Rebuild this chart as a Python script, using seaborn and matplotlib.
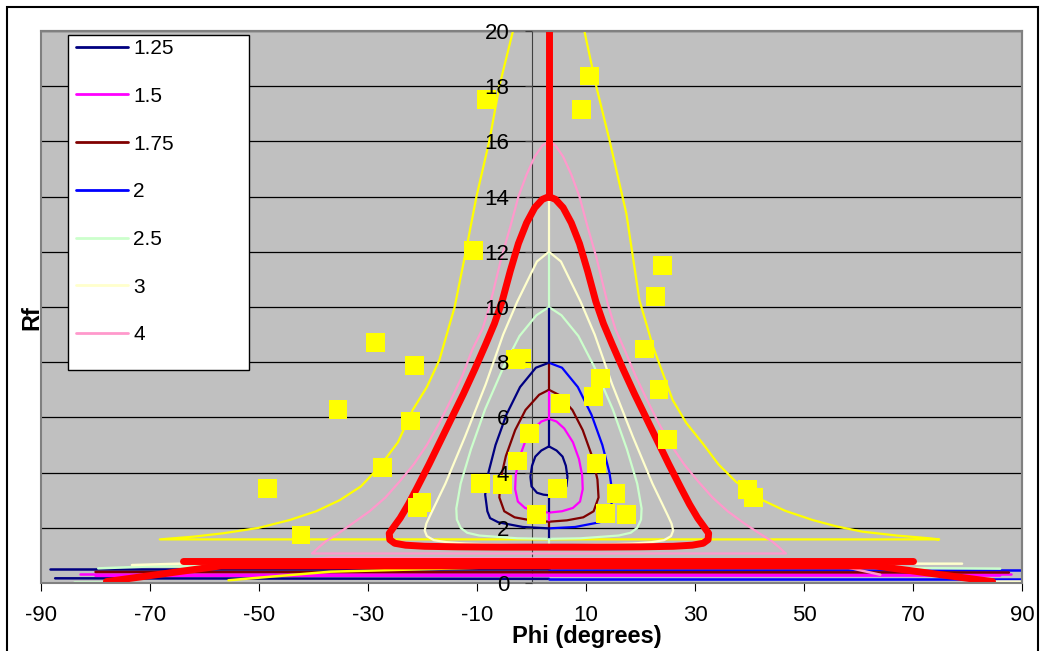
import seaborn as sns
import matplotlib.pyplot as plt
from matplotlib.lines import Line2D
from matplotlib.patches import Rectangle

sns.set_style('white')
plt.rcParams['font.family'] = ['Liberation Sans', 'DejaVu Sans']
plt.rcParams['axes.unicode_minus'] = False

# ---------------- data ----------------
# Rf/Phi curves, traced as (phi, Rf) points going round each loop
phi_125 = [3.2, 4.6, 5.7, 6.3, 6.6, 6.4, 5.4, 4.2, 3.2, 2.2, 1.0, 0.0, -0.2, 0.1, 0.7, 1.8, 3.2]
rf_125 = [4.95, 4.8, 4.58, 4.25, 3.85, 3.5, 3.27, 3.2, 3.18, 3.2, 3.27, 3.5, 3.85, 4.25, 4.58, 4.8, 4.95]

phi_150 = [3.2, 4.6, 6.0, 7.6, 8.7, 9.3, 9.4, 8.9, 7.6, 5.6, 3.2, 0.8, -1.2, -2.5, -3.0, -2.9, -2.3, -1.2, 0.4, 1.8, 3.2]
rf_150 = [5.95, 5.85, 5.6, 5.1, 4.5, 3.9, 3.4, 2.95, 2.72, 2.6, 2.55, 2.6, 2.72, 2.95, 3.4, 3.9, 4.5, 5.1, 5.6, 5.85, 5.95]

phi_175 = [3.2, 5.0, 7.5, 9.4, 11.1, 12.1, 12.3, 11.4, 9.5, 6.5, 3.2, -0.1, -3.1, -5.0, -5.9, -5.7, -4.7, -3.0, -1.1, 1.4, 3.2]
rf_175 = [7.0, 6.82, 6.27, 5.54, 4.6, 3.75, 3.1, 2.6, 2.38, 2.27, 2.22, 2.27, 2.38, 2.6, 3.1, 3.75, 4.6, 5.54, 6.27, 6.82, 7.0]

# the "2" loop is drawn in two halves (right half blue, left half navy)
phi_200r = [3.2, 5.6, 8.5, 11.0, 13.0, 14.3, 14.9, 14.5, 14.0, 12.5, 8.0, 3.2]
rf_200r = [7.98, 7.8, 7.1, 6.1, 5.0, 4.0, 3.2, 2.6, 2.35, 2.2, 2.03, 1.98]
phi_200l = [3.2, -1.6, -6.1, -7.6, -8.1, -8.5, -7.9, -6.6, -4.6, -2.1, 0.8, 3.2]
rf_200l = [1.98, 2.03, 2.2, 2.35, 2.6, 3.2, 4.0, 5.0, 6.1, 7.1, 7.8, 7.98]

phi_250 = [3.2, 5.5, 8.6, 11.5, 14.9, 17.5, 19.4, 20.2, 20.1, 19.4, 18.2, 16.0, 9.0, 3.2,
           -2.6, -9.6, -11.8, -13.0, -13.7, -13.8, -13.0, -11.1, -8.5, -5.1, -2.2, 0.9, 3.2]
rf_250 = [10.0, 9.7, 8.95, 7.84, 6.3, 4.85, 3.6, 2.7, 2.3, 2.0, 1.82, 1.72, 1.62, 1.6,
          1.62, 1.72, 1.82, 2.0, 2.3, 2.7, 3.6, 4.85, 6.3, 7.84, 8.95, 9.7, 10.0]

phi_300 = [3.2, 5.4, 9.0, 11.6, 14.8, 18.6, 22.2, 25.0, 25.7, 26.0, 25.6, 24.3, 22.0, 18.5, 14.0, 9.5, 3.2,
           -3.1, -7.6, -12.1, -15.6, -17.9, -19.2, -19.6, -19.3, -18.6, -15.8, -12.2, -8.4, -5.2, -2.6, 1.0, 3.2]
rf_300 = [12.0, 11.65, 10.2, 9.0, 7.2, 5.3, 3.6, 2.45, 2.15, 1.9, 1.7, 1.55, 1.48, 1.43, 1.4, 1.38, 1.36,
          1.38, 1.4, 1.43, 1.48, 1.55, 1.7, 1.9, 2.15, 2.45, 3.6, 5.3, 7.2, 9.0, 10.2, 11.65, 12.0]

phi_400 = [3.2, 4.4, 5.8, 7.3, 8.8, 10.3, 11.9, 14.0, 15.4, 17.1, 19.1, 21.2, 23.3, 25.6, 28.0, 30.5, 33.2,
           36.0, 39.1, 42.2, 44.2, 45.4, 46.2, 46.7,
           -40.3, -39.8, -39.0, -37.8, -35.8, -32.9, -29.7, -26.8, -24.1, -21.6, -19.2, -16.9,
           -14.8, -12.7, -10.9, -9.0, -7.6, -5.5, -3.9, -2.4, -0.9, 0.6, 2.0, 3.2]
rf_400 = [16.0, 15.85, 15.45, 14.8, 14.0, 12.9, 11.8, 10.1, 9.2, 8.44, 7.5, 6.63, 5.8, 5.0, 4.3, 3.7, 3.1,
          2.6, 2.15, 1.75, 1.5, 1.3, 1.15, 1.07,
          1.07, 1.15, 1.3, 1.5, 1.75, 2.15, 2.6, 3.1, 3.7, 4.3, 5.0, 5.8,
          6.63, 7.5, 8.44, 9.2, 10.1, 11.8, 12.9, 14.0, 14.8, 15.45, 15.85, 16.0]

# thick red curve
phi_red = [3.2, 4.4, 5.8, 7.3, 8.8, 10.3, 11.8, 13.2, 14.8, 16.8, 18.9, 21.0, 23.1, 25.2, 27.4, 29.0,
           30.5, 31.6, 32.5, 32.4, 31.5, 29.5, 26.0, 20.0, 12.0, 3.2,
           -5.6, -13.6, -19.6, -23.1, -25.1, -26.0, -26.1, -25.2, -24.1, -22.6, -21.0, -18.8, -16.7,
           -14.6, -12.5, -10.4, -8.4, -6.8, -5.4, -3.9, -2.4, -0.9, 0.6, 2.0, 3.2]
rf_red = [14.0, 13.9, 13.6, 13.05, 12.3, 11.3, 10.2, 9.4, 8.65, 7.75, 6.85, 6.0, 5.15, 4.3, 3.45, 2.85,
          2.35, 2.05, 1.8, 1.57, 1.44, 1.37, 1.33, 1.31, 1.3, 1.3,
          1.3, 1.31, 1.33, 1.37, 1.44, 1.57, 1.8, 2.05, 2.35, 2.85, 3.45, 4.3, 5.15,
          6.0, 6.85, 7.75, 8.65, 9.4, 10.2, 11.3, 12.3, 13.05, 13.6, 13.9, 14.0]

# open yellow curve
phi_yel = [-2.9, -3.4, -5.9, -7.7, -10.1, -12.0, -14.1, -16.9, -19.2, -21.8, -24.5, -27.9, -31.3, -35.2,
           -39.5, -44.4, -50.0, -56.6, -62.0, -68.2,
           74.8, 73.0, 67.0, 60.7, 56.0, 51.6, 46.5, 42.4, 37.5, 34.3, 31.4, 28.4, 25.9, 22.3, 19.8,
           17.4, 14.3, 11.9, 9.7, 9.4]
rf_yel = [21.0, 20.0, 18.0, 16.05, 14.0, 12.06, 10.0, 8.08, 7.1, 6.27, 5.1, 4.21, 3.5, 3.0,
          2.6, 2.28, 2.0, 1.8, 1.68, 1.58,
          1.58, 1.62, 1.72, 1.86, 2.05, 2.28, 2.62, 3.0, 3.67, 4.3, 5.06, 5.8, 6.63, 8.56, 10.25,
          13.39, 16.05, 17.98, 20.0, 21.0]

# vertical pieces on the centre line (phi = 3.2)
centre_phi = 3.2
seg_lo = [4.95, 5.95, 7.0, 7.98, 10.0, 12.0, 2.55, 2.22, 1.98, 1.6, 1.36, 14.0]
seg_hi = [5.95, 7.0, 7.98, 10.0, 12.0, 14.0, 3.18, 2.55, 2.22, 1.98, 1.6, 21.0]
seg_key = ['1.25', '1.5', '1.75', 'navy', '2.5', '3', '1.25', '1.5', '1.75', 'navy', '2.5', 'red']

# low branches (Rf < 1) along the bottom of the chart
low_lines = [
    ('navy', [-88.3, 3.2], [0.5, 0.5]),
    ('navy', [-87.4, 3.2], [0.17, 0.15]),
    ('2', [3.2, 91.0], [0.46, 0.46]),
    ('2', [3.2, 91.0], [0.15, 0.15]),
    ('1.5', [-82.8, 88.0], [0.33, 0.33]),
    ('1.5', [-80.0, 86.0], [0.26, 0.27]),
    ('1.75', [-80.0, 87.6], [0.4, 0.38]),
    ('2.5', [-79.5, -70.0, 3.2, 86.0], [0.53, 0.6, 0.62, 0.52]),
    ('2.5', [-84.0, -75.0], [0.05, 0.05]),
    ('3', [-73.3, -64.5, 79.0], [0.65, 0.7, 0.7]),
    ('3', [85.0, 90.0], [0.07, 0.07]),
    ('4', [-58.5, -37.0, 45.0, 54.6, 64.0], [0.59, 0.92, 0.85, 0.71, 0.3]),
    ('yellow', [-55.6, -36.9, 3.3, 60.0], [0.1, 0.41, 0.62, 0.62]),
]
red_low_phi = [-64.0, 70.0]
red_low_rf = [0.8, 0.8]
red_low2_phi = [-78.0, -57.0, 63.0, 84.6]
red_low2_rf = [0.05, 0.62, 0.62, 0.05]

# measured data points (yellow squares)
sq_phi = [-48.5, -42.3, -35.5, -28.6, -27.4, -21.4, -22.2, -20.1, -20.9, -10.7, -8.3, -9.4,
          -5.3, -2.6, -3.0, -1.8, -0.3, 0.9, 4.7, 5.4, 9.2, 10.6, 11.9, 11.3, 12.6, 15.5,
          13.6, 17.5, 20.7, 22.7, 24.1, 23.4, 24.9, 39.7, 40.7]
sq_rf = [3.41, 1.74, 6.3, 8.72, 4.18, 7.87, 5.87, 2.92, 2.74, 12.06, 17.52, 3.62,
         3.58, 4.42, 8.1, 8.15, 5.42, 2.47, 3.43, 6.51, 17.17, 18.37, 4.34, 6.75, 7.42, 3.25,
         2.53, 2.49, 8.48, 10.37, 11.49, 7.02, 5.21, 3.39, 3.09]

legend_labels = ['1.25', '1.5', '1.75', '2', '2.5', '3', '4']
colors = {'1.25': '#000080', '1.5': '#FF00FF', '1.75': '#800000', '2': '#0000FF',
          '2.5': '#CCFFCC', '3': '#FFFFCC', '4': '#FF99CC', 'navy': '#000080',
          'red': '#FF0000', 'yellow': '#FFFF00'}

# ---------------- figure ----------------
W, H = 1045, 651
fig = plt.figure(figsize=(W / 100, H / 100), dpi=100)
ax = fig.add_axes([41 / W, (H - 583) / H, (1022 - 41) / W, (583 - 31) / H])
ax.set_facecolor('#C0C0C0')


def line(x, y, key, lw=1.6, z=3):
    sns.lineplot(x=x, y=y, sort=False, estimator=None, color=colors[key],
                 lw=lw, ax=ax, zorder=z, legend=False)


# low branches first
for key, px, py in low_lines:
    line(px, py, key, lw=1.8, z=2)
line(red_low2_phi, red_low2_rf, 'red', lw=5, z=2.5)
line(red_low_phi, red_low_rf, 'red', lw=5, z=2.5)

line(phi_yel, rf_yel, 'yellow')
line(phi_400, rf_400, '4')
line(phi_300, rf_300, '3')
line(phi_250, rf_250, '2.5')
line(phi_200r, rf_200r, '2')
line(phi_200l, rf_200l, 'navy')
line(phi_175, rf_175, '1.75')
line(phi_150, rf_150, '1.5')
line(phi_125, rf_125, '1.25')
for lo, hi, key in zip(seg_lo, seg_hi, seg_key):
    line([centre_phi, centre_phi], [lo, hi], key, lw=5 if key == 'red' else 1.6, z=3.5)
line(phi_red, rf_red, 'red', lw=5, z=4)

sns.scatterplot(x=sq_phi, y=sq_rf, marker='s', s=185, color='#FFFF00',
                edgecolor='none', linewidth=0, ax=ax, zorder=6)

# axes styling
ax.set_xlim(-90, 90)
ax.set_ylim(0, 20)
ax.set_xticks(range(-90, 91, 20))
ax.set_yticks(range(0, 21, 2))
ax.grid(False)
for gy in range(2, 21, 2):
    ax.axhline(gy, color='black', lw=0.9, zorder=1)
ax.spines['left'].set_position(('data', 0))
ax.spines['left'].set_color('#404040')
ax.spines['left'].set_zorder(1.5)
ax.spines['bottom'].set_color('black')
ax.spines['bottom'].set_linewidth(1.2)
for s in ['top', 'right']:
    ax.spines[s].set_color('#808080')
    ax.spines[s].set_linewidth(1.5)
ax.add_patch(Rectangle((0, 0), 1, 1, transform=ax.transAxes, fill=False,
                       edgecolor='#808080', lw=1.5, zorder=7, clip_on=False))
ax.tick_params(axis='y', direction='out', length=5, pad=11, labelsize=16,
               color='#404040', labelcolor='black', left=True)
ax.tick_params(axis='x', direction='out', length=6, pad=10, labelsize=16,
               color='black', labelcolor='black', bottom=True)
ax.yaxis.set_zorder(8)
ax.set_xlabel('')
ax.set_ylabel('')

fig.text(587 / W, 1 - 636 / H, 'Phi (degrees)', ha='center', va='center',
         fontsize=17, fontweight='bold', color='black')
fig.text(32 / W, 1 - 318 / H, 'Rf', ha='center', va='center', rotation=90,
         fontsize=17, fontweight='bold', color='black')

# legend box
ax.add_patch(Rectangle((68 / W, 1 - 370 / H), (249 - 68) / W, (370 - 35) / H,
                       transform=fig.transFigure, facecolor='white',
                       edgecolor='black', lw=1, zorder=10, clip_on=False))
handles = [Line2D([], [], color=colors[k], lw=2) for k in legend_labels]
leg = ax.legend(handles, legend_labels, loc='upper left',
                bbox_to_anchor=(76 / W, 1 - 39 / H), bbox_transform=fig.transFigure,
                frameon=False, fontsize=15, handlelength=2.5, handletextpad=0.25,
                labelspacing=1.38, borderpad=0, borderaxespad=0)
leg.set_zorder(11)
for t in leg.get_texts():
    t.set_color('black')

# outer chart frame
fig.add_artist(Rectangle((7 / W, -0.05), (1038 - 7) / W, 1.05 - 7 / H,
                         transform=fig.transFigure, fill=False, edgecolor='black',
                         lw=1.5))

fig.savefig('out.png', dpi=100)
